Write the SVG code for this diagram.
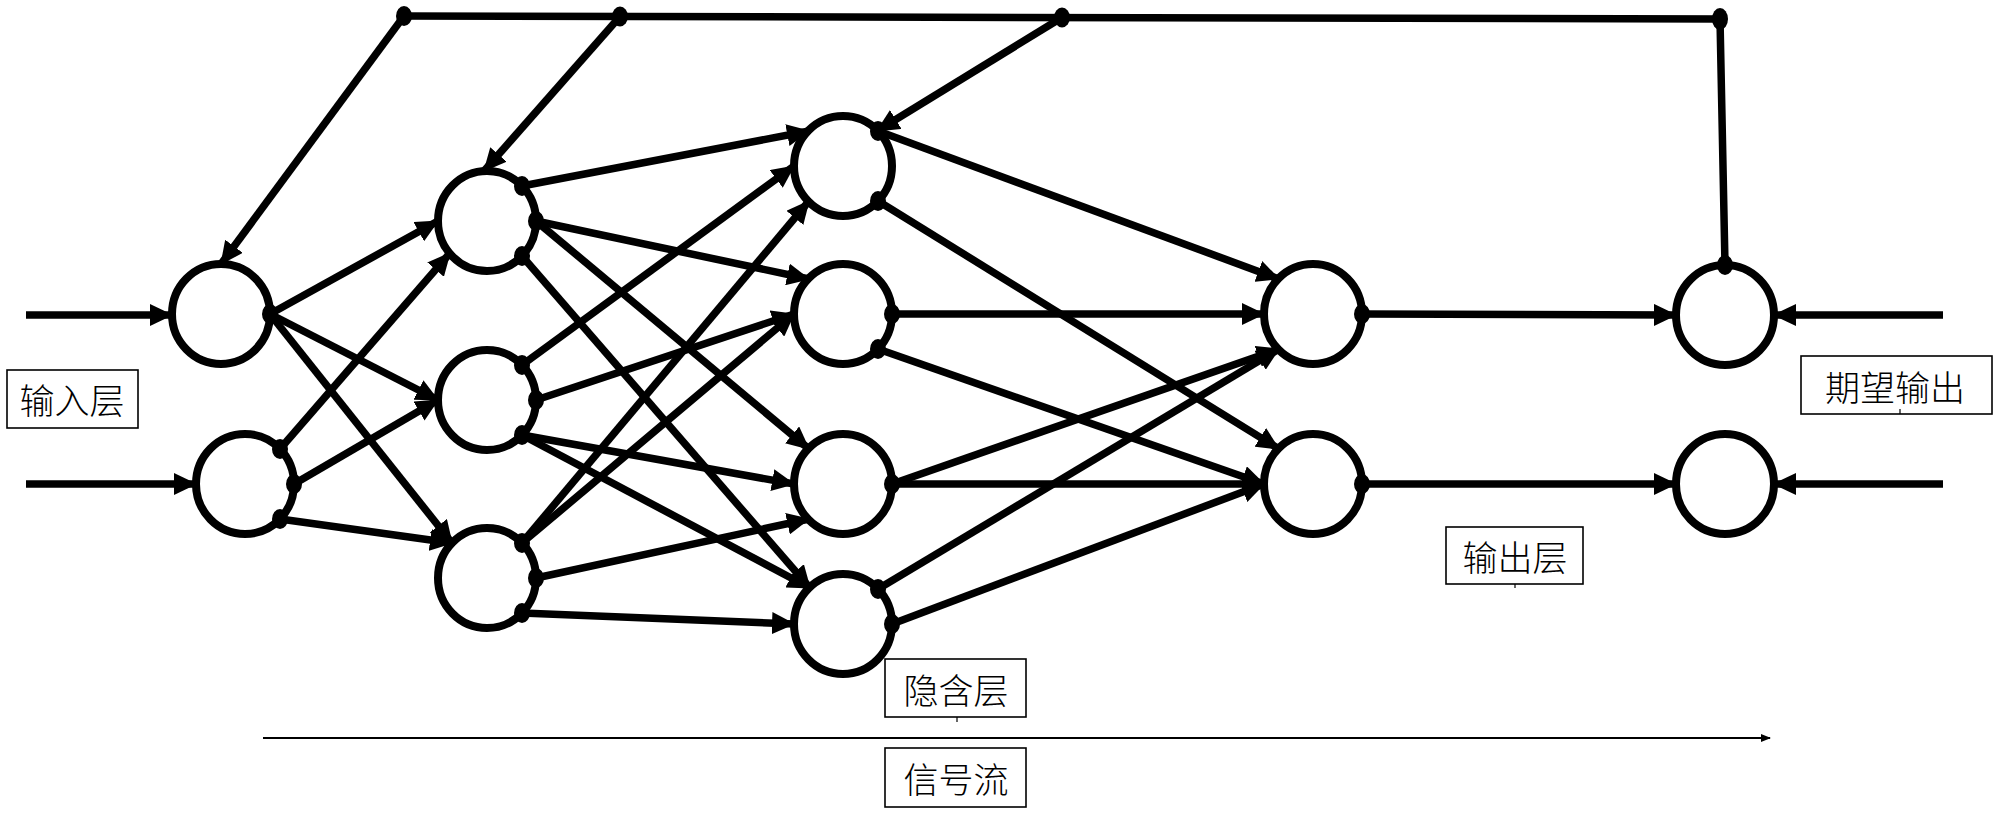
<svg xmlns="http://www.w3.org/2000/svg" width="2000" height="813" viewBox="0 0 2000 813">
<defs>
<marker id="arr" markerUnits="userSpaceOnUse" markerWidth="24" markerHeight="22" refX="22" refY="11" orient="auto" viewBox="0 0 24 22"><path d="M0,0 L23,11 L0,22 z" fill="#000"/></marker>
<marker id="sarr" markerUnits="userSpaceOnUse" markerWidth="10" markerHeight="8" refX="9" refY="4" orient="auto" viewBox="0 0 10 8"><path d="M0,0 L10,4 L0,8 z" fill="#000"/></marker>
</defs>
<style>
.node{fill:#fff;stroke:#000;stroke-width:8}
.c{stroke:#000;stroke-width:7.5;fill:none;marker-end:url(#arr)}
.p{stroke:#000;stroke-width:7.5;fill:none}
.d{fill:#000}
.box{fill:#fff;stroke:#000;stroke-width:1.6}
.t{font-family:"Noto Sans CJK SC","Noto Sans",sans-serif;font-size:35px;font-weight:300;fill:#000;text-anchor:middle;dominant-baseline:central}
.tick{stroke:#000;stroke-width:1.2}
</style>
<rect width="2000" height="813" fill="#fff"/>

<g id="nodes">
<g id="I1"><ellipse class="node" cx="221" cy="314" rx="49" ry="50"/></g>
<g id="I2"><ellipse class="node" cx="245" cy="484" rx="49" ry="50"/></g>
<g id="H1"><ellipse class="node" cx="487" cy="221" rx="49" ry="50"/></g>
<g id="H2"><ellipse class="node" cx="487" cy="400" rx="49" ry="50"/></g>
<g id="H3"><ellipse class="node" cx="487" cy="578" rx="49" ry="50"/></g>
<g id="J1"><ellipse class="node" cx="843" cy="166" rx="49" ry="50"/></g>
<g id="J2"><ellipse class="node" cx="843" cy="314" rx="49" ry="50"/></g>
<g id="J3"><ellipse class="node" cx="843" cy="484" rx="49" ry="50"/></g>
<g id="J4"><ellipse class="node" cx="843" cy="624" rx="49" ry="50"/></g>
<g id="O1"><ellipse class="node" cx="1313" cy="314" rx="49" ry="50"/></g>
<g id="O2"><ellipse class="node" cx="1313" cy="484" rx="49" ry="50"/></g>
<g id="D1"><ellipse class="node" cx="1725" cy="315" rx="49" ry="50"/></g>
<g id="D2"><ellipse class="node" cx="1725" cy="484" rx="49" ry="50"/></g>
</g>

<g id="connectors">
<line class="c" x1="26" y1="315" x2="172" y2="315"/>
<line class="c" x1="26" y1="484" x2="196" y2="484"/>
<line class="c" x1="270" y1="314" x2="438" y2="221"/>
<line class="c" x1="270" y1="314" x2="438" y2="400"/>
<line class="c" x1="270" y1="314" x2="452" y2="543"/>
<line class="c" x1="280" y1="449" x2="450" y2="253"/>
<line class="c" x1="294" y1="484" x2="438" y2="400"/>
<line class="c" x1="280" y1="519" x2="452" y2="543"/>
<line class="c" x1="522" y1="186" x2="809" y2="131"/>
<line class="c" x1="536" y1="221" x2="809" y2="279"/>
<line class="c" x1="536" y1="221" x2="809" y2="449"/>
<line class="c" x1="522" y1="256" x2="810" y2="588"/>
<line class="c" x1="522" y1="365" x2="794" y2="166"/>
<line class="c" x1="536" y1="400" x2="794" y2="314"/>
<line class="c" x1="522" y1="435" x2="794" y2="484"/>
<line class="c" x1="522" y1="435" x2="810" y2="588"/>
<line class="c" x1="522" y1="543" x2="809" y2="201"/>
<line class="c" x1="522" y1="543" x2="794" y2="314"/>
<line class="c" x1="536" y1="578" x2="809" y2="519"/>
<line class="c" x1="522" y1="613" x2="794" y2="624"/>
<line class="c" x1="878" y1="131" x2="1279" y2="279"/>
<line class="c" x1="878" y1="201" x2="1279" y2="449"/>
<line class="c" x1="892" y1="314" x2="1264" y2="314"/>
<line class="c" x1="878" y1="349" x2="1264" y2="484"/>
<line class="c" x1="892" y1="484" x2="1264" y2="484"/>
<line class="c" x1="892" y1="484" x2="1279" y2="349"/>
<line class="c" x1="878" y1="589" x2="1279" y2="349"/>
<line class="c" x1="892" y1="624" x2="1264" y2="484"/>
<line class="c" x1="1362" y1="314" x2="1676" y2="315"/>
<line class="c" x1="1362" y1="484" x2="1676" y2="484"/>
<line class="c" x1="1943" y1="315" x2="1774" y2="315"/>
<line class="c" x1="1943" y1="484" x2="1774" y2="484"/>
<polyline class="p" points="1725,265 1720,19 404,16"/>
<line class="c" x1="404" y1="16" x2="221" y2="264"/>
<line class="c" x1="620" y1="16.5" x2="484" y2="171"/>
<line class="c" x1="1062" y1="17.5" x2="877" y2="131"/>
<line x1="263" y1="738" x2="1770" y2="738" stroke="#000" stroke-width="2" marker-end="url(#sarr)"/>
<ellipse class="d" cx="270" cy="314" rx="8" ry="10"/>
<ellipse class="d" cx="280" cy="449" rx="8" ry="10"/>
<ellipse class="d" cx="294" cy="484" rx="8" ry="10"/>
<ellipse class="d" cx="280" cy="519" rx="8" ry="10"/>
<ellipse class="d" cx="522" cy="186" rx="8" ry="10"/>
<ellipse class="d" cx="536" cy="221" rx="8" ry="10"/>
<ellipse class="d" cx="522" cy="256" rx="8" ry="10"/>
<ellipse class="d" cx="522" cy="365" rx="8" ry="10"/>
<ellipse class="d" cx="536" cy="400" rx="8" ry="10"/>
<ellipse class="d" cx="522" cy="435" rx="8" ry="10"/>
<ellipse class="d" cx="522" cy="543" rx="8" ry="10"/>
<ellipse class="d" cx="536" cy="578" rx="8" ry="10"/>
<ellipse class="d" cx="522" cy="613" rx="8" ry="10"/>
<ellipse class="d" cx="878" cy="131" rx="8" ry="10"/>
<ellipse class="d" cx="878" cy="201" rx="8" ry="10"/>
<ellipse class="d" cx="892" cy="314" rx="8" ry="10"/>
<ellipse class="d" cx="878" cy="349" rx="8" ry="10"/>
<ellipse class="d" cx="892" cy="484" rx="8" ry="10"/>
<ellipse class="d" cx="878" cy="589" rx="8" ry="10"/>
<ellipse class="d" cx="892" cy="624" rx="8" ry="10"/>
<ellipse class="d" cx="1362" cy="314" rx="8" ry="10"/>
<ellipse class="d" cx="1362" cy="484" rx="8" ry="10"/>
<ellipse class="d" cx="1725" cy="265" rx="8" ry="10"/>
<ellipse class="d" cx="1720" cy="19" rx="8" ry="11"/>
<ellipse class="d" cx="404" cy="16" rx="8" ry="10"/>
<ellipse class="d" cx="620" cy="16.5" rx="8" ry="10"/>
<ellipse class="d" cx="1062" cy="17.5" rx="8" ry="10"/>
</g>

<g id="labels">
<g id="label-input"><rect class="box" x="7" y="370" width="131" height="58"/><text class="t" x="72" y="398">输入层</text></g>
<g id="label-hidden"><rect class="box" x="885" y="659" width="141" height="58"/><text class="t" x="956" y="688">隐含层</text><line class="tick" x1="957" y1="717" x2="957" y2="722"/></g>
<g id="label-signal"><rect class="box" x="885" y="748" width="141" height="59"/><text class="t" x="956" y="777">信号流</text></g>
<g id="label-output"><rect class="box" x="1446" y="527" width="137" height="57"/><text class="t" x="1515" y="555">输出层</text><line class="tick" x1="1515" y1="584" x2="1515" y2="588"/></g>
<g id="label-desired"><rect class="box" x="1801" y="356" width="191" height="58"/><text class="t" x="1895" y="385">期望输出</text><line class="tick" x1="1900" y1="409" x2="1900" y2="414"/></g>
</g>
</svg>
